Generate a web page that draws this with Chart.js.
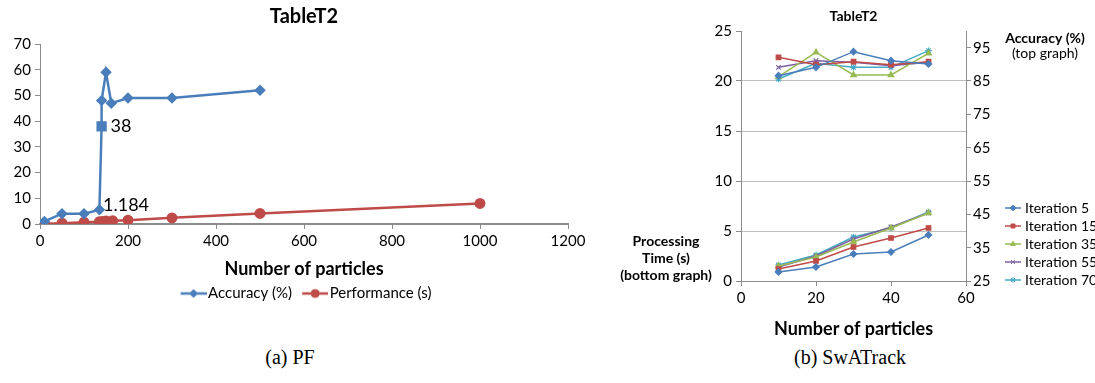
<!DOCTYPE html>
<html>
<head>
<meta charset="utf-8">
<script src="https://cdn.jsdelivr.net/npm/chart.js@4.4.1/dist/chart.umd.min.js"></script>
<style>
  body { margin: 0; background: #fff; width: 1095px; height: 383px; position: relative; overflow: hidden; }
  #pf_chart { position: absolute; left: 0; top: 0; }
  #swa_chart { position: absolute; left: 600px; top: 0; }
  .caption { position: absolute; top: 346px; font-family: "Liberation Serif", serif; font-size: 20px; line-height: 23px; transform: translateX(-50%); white-space: nowrap; }
</style>
</head>
<body>
<canvas id="pf_chart" width="600" height="311"></canvas>
<canvas id="swa_chart" width="495" height="345"></canvas>
<div class="caption" style="left:290px">(a) PF</div>
<div class="caption" style="left:850px">(b) SwATrack</div>

<script>
// (a) PF
const pfAccParticles = [10, 50, 100, 135, 140, 140, 150, 162, 200, 300, 500];
const pfAccuracy = [1, 4, 4, 5.5, 38, 48, 59, 47, 49, 49, 52];
const pfPerfParticles = [10, 50, 100, 135, 142, 150, 165, 200, 300, 500, 1000];
const pfPerformance = [0.1, 0.3, 0.7, 0.9, 1.0, 1.184, 1.3, 1.5, 2.4, 4.1, 8.0];
const pfXTicks = [0, 200, 400, 600, 800, 1000, 1200];
const pfYTicks = [0, 10, 20, 30, 40, 50, 60, 70];
// [series, point index] of the points that carry a value label
const pfLabelled = [[0, 4], [1, 5]];

// (b) SwATrack
const iterations = [5, 15, 35, 55, 70];
const swaParticles = [10, 20, 30, 40, 50];
const time5 = [0.9, 1.4, 2.7, 2.9, 4.6];
const time15 = [1.2, 2.0, 3.4, 4.3, 5.3];
const time35 = [1.5, 2.4, 3.9, 5.3, 6.8];
const time55 = [1.4, 2.5, 4.2, 5.4, 6.8];
const time70 = [1.6, 2.6, 4.4, 5.3, 6.9];
const acc5 = [86.6, 89.1, 93.8, 91.1, 90.1];
const acc15 = [92.1, 89.9, 90.8, 89.9, 90.8];
const acc35 = [86.3, 93.6, 86.8, 86.8, 93.3];
const acc55 = [89.1, 91.1, 90.6, 89.6, 90.6];
const acc70 = [85.6, 90.3, 89.1, 89.1, 94.1];
const swaXTicks = [0, 20, 40, 60];
const swaTimeTicks = [0, 5, 10, 15, 20, 25];
const swaAccTicks = [25, 35, 45, 55, 65, 75, 85, 95];
const swaAccMax = 100;

Chart.defaults.font.family = "Lato, 'Liberation Sans', sans-serif";
Chart.defaults.color = "#000";
Chart.defaults.animation = false;

const blueColor = "#4a7ebb";
const redColor = "#be4b48";
const iterColors = ["#4a7ebb", "#be4b48", "#98b954", "#7d60a0", "#46aac5"];
const iterMarkers = ["rectRot", "rect", "triangle", "crossRot", "star"];
const axisGray = "#8c8c8c";

function xy(xs, ys) {
    return xs.map(function (x, i) { return {x: x, y: ys[i]}; });
}

function setTicks(values) {
    return function (axis) {
        axis.ticks = values.map(function (v) { return {value: v}; });
    };
}

function plainNumber(value) {
    return String(value);
}

// line + marker key like the spreadsheet legend
function legendKey(color, style, radius, width, height, lineStart) {
    let c = document.createElement("canvas");
    c.width = width;
    c.height = height;
    let ctx = c.getContext("2d");
    ctx.strokeStyle = color;
    ctx.fillStyle = color;
    ctx.lineWidth = 2.5;
    ctx.beginPath();
    ctx.moveTo(lineStart, height / 2);
    ctx.lineTo(width, height / 2);
    ctx.stroke();
    ctx.lineWidth = 1;
    Chart.helpers.drawPoint(ctx, {pointStyle: style, radius: radius, borderWidth: 1, rotation: 0},
        (lineStart + width) / 2, height / 2);
    return c;
}

const pfKeys = [
    legendKey(blueColor, "rectRot", 4, 36, 12, 10),
    legendKey(redColor, "circle", 4, 36, 12, 10)
];

const pfValueLabels = {
    id: "pfValueLabels",
    afterDatasetsDraw(chart) {
        const offsets = [[9, 0], [-3, -16]];
        let ctx = chart.ctx;
        ctx.save();
        ctx.font = "18px Lato";
        ctx.fillStyle = "#000";
        ctx.textBaseline = "middle";
        pfLabelled.forEach(function (p, k) {
            let el = chart.getDatasetMeta(p[0]).data[p[1]];
            let v = chart.data.datasets[p[0]].data[p[1]].y;
            ctx.fillText(String(v), el.x + offsets[k][0], el.y + offsets[k][1]);
        });
        ctx.restore();
    }
};

new Chart("pf_chart", {
    type: "line",
    data: {
        datasets: [{
            label: "Accuracy (%)",
            data: xy(pfAccParticles, pfAccuracy),
            borderColor: blueColor,
            backgroundColor: blueColor,
            borderWidth: 2.5,
            pointStyle: pfAccuracy.map(function (v, i) { return i === pfLabelled[0][1] ? "rect" : "rectRot"; }),
            pointRadius: pfAccuracy.map(function (v, i) { return i === pfLabelled[0][1] ? 5.5 : 4; }),
            tension: 0
        }, {
            label: "Performance (s)",
            data: xy(pfPerfParticles, pfPerformance),
            borderColor: redColor,
            backgroundColor: redColor,
            borderWidth: 2.5,
            pointStyle: "circle",
            pointRadius: 4.2,
            tension: 0
        }]
    },
    options: {
        responsive: false,
        layout: {padding: {left: 0, right: 32, top: 0, bottom: 0}},
        plugins: {
            title: {
                display: true,
                fullSize: false,
                text: "TableT2",
                color: "#000",
                font: {size: 20, weight: "bold"},
                padding: {top: 5, bottom: 15}
            },
            legend: {
                position: "bottom",
                fullSize: false,
                labels: {
                    usePointStyle: true,
                    pointStyleWidth: 24,
                    padding: 6,
                    font: {size: 15},
                    color: "#000",
                    generateLabels: function (chart) {
                        let items = Chart.defaults.plugins.legend.labels.generateLabels(chart);
                        items.forEach(function (item) { item.pointStyle = pfKeys[item.datasetIndex]; });
                        return items;
                    }
                }
            },
            tooltip: {enabled: false}
        },
        scales: {
            x: {
                type: "linear",
                min: pfXTicks[0],
                max: pfXTicks[pfXTicks.length - 1],
                afterBuildTicks: setTicks(pfXTicks),
                afterFit: function (s) { s.height = 56; },
                grid: {drawOnChartArea: false, tickLength: 5, color: axisGray},
                border: {color: axisGray, width: 2},
                ticks: {font: {size: 15}, padding: 3, maxRotation: 0, callback: plainNumber},
                title: {
                    display: true,
                    text: "Number of particles",
                    font: {size: 18, weight: "bold"},
                    padding: {top: 0, bottom: 0}
                }
            },
            y: {
                min: pfYTicks[0],
                max: pfYTicks[pfYTicks.length - 1],
                afterBuildTicks: setTicks(pfYTicks),
                afterFit: function (s) { s.width = 40; },
                grid: {drawOnChartArea: false, tickLength: 5, color: axisGray},
                border: {color: axisGray, width: 1},
                ticks: {font: {size: 15}, padding: 4, callback: plainNumber}
            }
        }
    },
    plugins: [pfValueLabels]
});

// SwATrack: time series on left axis, accuracy series on right axis
const timeSeries = [time5, time15, time35, time55, time70];
const accSeries = [acc5, acc15, acc35, acc55, acc70];

function iterDataset(i, values, axisId) {
    return {
        label: "Iteration " + iterations[i],
        yAxisID: axisId,
        data: xy(swaParticles, values),
        borderColor: iterColors[i],
        backgroundColor: iterColors[i],
        borderWidth: 1.5,
        pointStyle: iterMarkers[i],
        pointRadius: 3.2,
        pointBorderWidth: 1.2,
        tension: 0
    };
}

let swaDatasets = [];
iterations.forEach(function (n, i) { swaDatasets.push(iterDataset(i, timeSeries[i], "y")); });
iterations.forEach(function (n, i) { swaDatasets.push(iterDataset(i, accSeries[i], "y1")); });

const swaExtras = {
    id: "swaExtras",
    afterDraw(chart) {
        let ctx = chart.ctx;
        ctx.save();
        ctx.fillStyle = "#000";
        ctx.textBaseline = "middle";
        ctx.textAlign = "center";
        ctx.font = "bold 14px Lato";
        ctx.fillText("Accuracy (%)", 445, 38);
        ctx.font = "14px Lato";
        ctx.fillText("(top graph)", 445, 53);
        ctx.font = "bold 14px Lato";
        ctx.fillText("Processing", 66, 241);
        ctx.fillText("Time (s)", 66, 258);
        ctx.fillText("(bottom graph)", 66, 275);

        // legend, one row per iteration
        ctx.textAlign = "left";
        ctx.font = "14px Lato";
        iterations.forEach(function (n, i) {
            let ds = chart.data.datasets[i];
            let y = 208 + i * 18;
            ctx.strokeStyle = ds.borderColor;
            ctx.fillStyle = ds.borderColor;
            ctx.lineWidth = 1.5;
            ctx.beginPath();
            ctx.moveTo(405, y);
            ctx.lineTo(421, y);
            ctx.stroke();
            ctx.lineWidth = 1;
            Chart.helpers.drawPoint(ctx, {pointStyle: ds.pointStyle, radius: 2.8, borderWidth: 1, rotation: 0}, 413, y);
            ctx.fillStyle = "#000";
            ctx.fillText(ds.label, 425, y);
        });
        ctx.restore();
    }
};

new Chart("swa_chart", {
    type: "line",
    data: {datasets: swaDatasets},
    options: {
        responsive: false,
        layout: {padding: {left: 0, right: 92, top: 0, bottom: 0}},
        plugins: {
            title: {
                display: true,
                fullSize: false,
                text: "TableT2",
                color: "#000",
                font: {size: 14, weight: "bold"},
                padding: {top: 8, bottom: 6.2}
            },
            legend: {display: false},
            tooltip: {enabled: false}
        },
        scales: {
            x: {
                type: "linear",
                min: swaXTicks[0],
                max: swaXTicks[swaXTicks.length - 1],
                afterBuildTicks: setTicks(swaXTicks),
                afterFit: function (s) { s.height = 64; },
                grid: {drawOnChartArea: false, tickLength: 5, color: axisGray},
                border: {color: axisGray, width: 1},
                ticks: {font: {size: 15}, padding: 3, maxRotation: 0, callback: plainNumber},
                title: {
                    display: true,
                    text: "Number of particles",
                    font: {size: 18, weight: "bold"},
                    padding: {top: 0, bottom: 5}
                }
            },
            y: {
                position: "left",
                min: swaTimeTicks[0],
                max: swaTimeTicks[swaTimeTicks.length - 1],
                afterBuildTicks: setTicks(swaTimeTicks),
                afterFit: function (s) { s.width = 141; },
                grid: {
                    tickLength: 5,
                    tickColor: axisGray,
                    color: function (c) { return c.tick && c.tick.value === swaTimeTicks[swaTimeTicks.length - 1] ? "rgba(0,0,0,0)" : "#bdbdbd"; }
                },
                border: {color: axisGray, width: 1},
                ticks: {font: {size: 15}, padding: 4, callback: plainNumber}
            },
            y1: {
                position: "right",
                min: swaAccTicks[0],
                max: swaAccMax,
                afterBuildTicks: setTicks(swaAccTicks),
                afterFit: function (s) { s.width = 37; },
                grid: {drawOnChartArea: false, tickLength: 5, color: axisGray},
                border: {color: axisGray, width: 1},
                ticks: {font: {size: 15}, padding: 2, callback: plainNumber}
            }
        }
    },
    plugins: [swaExtras]
});
</script>
</body>
</html>
